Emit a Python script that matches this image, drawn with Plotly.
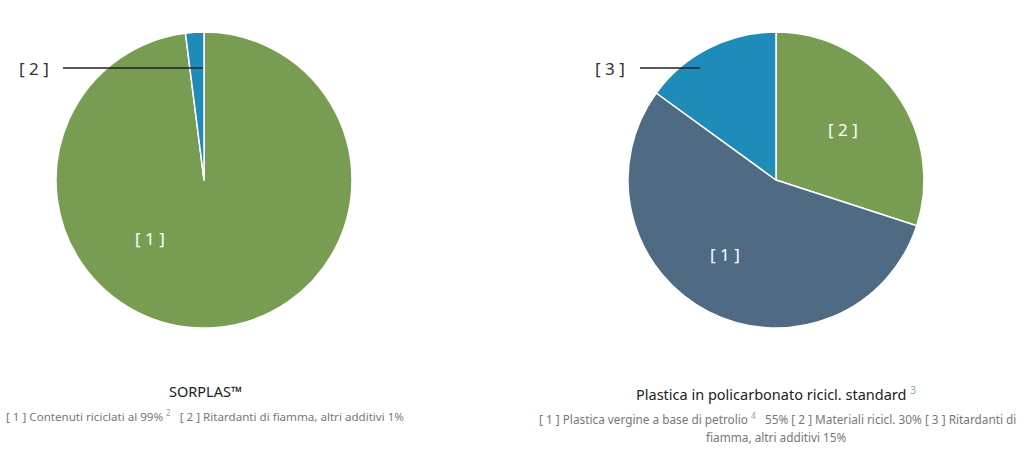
import plotly.graph_objects as go

W, H = 1024, 460

# Data
left_labels = ["[ 1 ]", "[ 2 ]"]
left_values = [98, 2]
left_colors = ["#789D52", "#1F8BB8"]

right_labels = ["[ 2 ]", "[ 1 ]", "[ 3 ]"]
right_values = [30, 55, 15]
right_colors = ["#789D52", "#4F6A83", "#1F8BB8"]

left_title = "SORPLAS™"
left_sub = "[ 1 ] Contenuti riciclati al 99% <sup><span style='color:#999'>2</span></sup>   [ 2 ] Ritardanti di fiamma, altri additivi 1%"
right_title = "Plastica in policarbonato ricicl. standard <sup><span style='color:#8aa'>3</span></sup>"
right_sub_lines = ["[ 1 ] Plastica vergine a base di petrolio <sup><span style='color:#999'>4</span></sup>   55% [ 2 ] Materiali ricicl. 30% [ 3 ] Ritardanti di",
                   "fiamma, altri additivi 15%"]

def px(x):
    return x / W

def py(y):
    return 1 - y / H

fig = go.Figure()
fig.add_trace(go.Pie(
    labels=left_labels, values=left_values, sort=False, direction="clockwise", rotation=0,
    marker=dict(colors=left_colors, line=dict(color="white", width=1.5)),
    textinfo="none", hoverinfo="label+percent", showlegend=False,
    domain=dict(x=[px(56), px(352)], y=[py(328), py(32)]),
))
fig.add_trace(go.Pie(
    labels=right_labels, values=right_values, sort=False, direction="clockwise", rotation=0,
    marker=dict(colors=right_colors, line=dict(color="white", width=1.5)),
    textinfo="none", hoverinfo="label+percent", showlegend=False,
    domain=dict(x=[px(628), px(924)], y=[py(328), py(32)]),
))

FONT = "Noto Sans"
ann = []
def add(text, x, y, size, color, xanchor="center"):
    ann.append(dict(text=text, x=px(x), y=py(y), xref="paper", yref="paper",
                    showarrow=False, xanchor=xanchor, yanchor="middle", align="center",
                    font=dict(family=FONT, size=size, color=color)))

# slice labels
add(left_labels[0], 150, 238, 17, "white")
add(left_labels[1], 34, 68, 17, "#333333")
add(right_labels[0], 843, 130, 17, "white")
add(right_labels[1], 725, 254, 17, "white")
add(right_labels[2], 610, 68, 17, "#333333")

# titles
add(left_title, 205, 391, 14.5, "#222222")
add(left_sub, 205, 415, 11.6, "#777777")
add(right_title, 776, 393, 14.5, "#222222")
add(right_sub_lines[0], 777, 418, 11.8, "#777777")
add(right_sub_lines[1], 776, 437, 11.8, "#777777")

shapes = [
    dict(type="line", xref="paper", yref="paper", x0=px(63), x1=px(203), y0=py(68), y1=py(68),
         line=dict(color="#222222", width=1.5)),
    dict(type="line", xref="paper", yref="paper", x0=px(640), x1=px(700), y0=py(68), y1=py(68),
         line=dict(color="#222222", width=1.5)),
]

fig.update_layout(
    width=W, height=H, margin=dict(l=0, r=0, t=0, b=0),
    paper_bgcolor="white", plot_bgcolor="white",
    annotations=ann, shapes=shapes,
    font=dict(family=FONT),
)
fig.write_html("out.html", config={"displayModeBar": False},
               post_script="document.body.style.margin='0';document.body.style.overflow='hidden';")
